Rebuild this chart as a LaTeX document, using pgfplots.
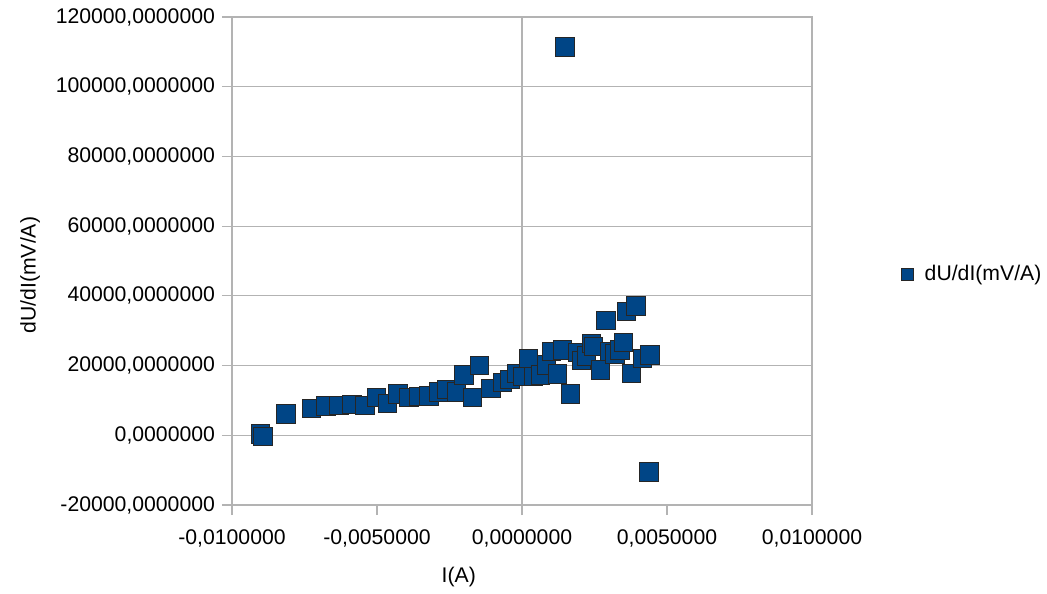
\documentclass[border=0pt]{standalone}
\usepackage{fontspec}
\setmainfont{Liberation Sans}
\usepackage{pgfplots}
\pgfplotsset{compat=1.18}
\definecolor{gridgray}{HTML}{B3B3B3}
\definecolor{seriesblue}{HTML}{004586}
\begin{document}
\begin{tikzpicture}
\path[use as bounding box] (-116pt,-44pt) rectangle (407.5pt,252.5pt);
\begin{axis}[
    scale only axis,
    width=290pt, height=244pt,
    xmin=-0.01, xmax=0.01,
    ymin=-20000, ymax=120000,
    xtick={-0.01,-0.005,0,0.005,0.01},
    ytick={-20000,0,20000,40000,60000,80000,100000,120000},
    xtick pos=bottom, ytick pos=left,
    scaled ticks=false,
    tick align=outside,
    major tick length=5pt,
    tick style={gridgray, line width=0.6pt},
    axis line style={gridgray, line width=0.6pt},
    ymajorgrids,
    grid style={gridgray, line width=0.6pt},
    extra x ticks={0},
    extra x tick labels={},
    extra x tick style={grid=major},
    /pgf/number format/assume math mode=true,
    xticklabel style={yshift=-4pt, /pgf/number format/.cd, fixed, fixed zerofill, precision=7, use comma, 1000 sep={}},
    yticklabel style={/pgf/number format/.cd, fixed, fixed zerofill, precision=7, use comma, 1000 sep={}},
    ticklabel style={font=\fontsize{10.6}{12.7}\selectfont, black},
    xlabel={I(A)},
    ylabel={dU/dI(mV/A)},
    label style={font=\fontsize{10.6}{12.7}\selectfont},
    xlabel style={at={(axis description cs:0.391,0)}, anchor=center, yshift=-36pt},
    ylabel style={at={(axis description cs:-0.348,0.471)}, anchor=center},
    legend style={draw=none, fill=none, at={(axis description cs:1.143,0.473)}, anchor=west,
        font=\fontsize{10.6}{12.7}\selectfont},
    legend image code/.code={\draw[#1, mark size=3pt] plot coordinates {(0.12cm,0cm)}; \path (9.9pt,0pt);},
    clip=false,
]
\addplot[only marks, mark=square*, mark size=4.6pt,
    mark options={fill=seriesblue, draw=black!85, line width=0.5pt}]
    coordinates {
    (-0.00901,400) (-0.00893,-344) (-0.00814,6110) (-0.00725,7745)
    (-0.00676,8405) (-0.00631,8491) (-0.00586,8778) (-0.00541,8491)
    (-0.00501,10901) (-0.00463,9180) (-0.00427,11847) (-0.00390,10901)
    (-0.00355,11073) (-0.00321,11274) (-0.00287,12421) (-0.00258,13196)
    (-0.00225,12421) (-0.00200,17298) (-0.00171,10786) (-0.00146,19966)
    (-0.00107,13483) (-0.00067,15089) (-0.00041,16064) (-0.00018,17786)
    (0.00004,16810) (0.00022,21974) (0.00039,16810) (0.00064,17298)
    (0.00085,20167) (0.00102,23982) (0.00122,17585) (0.00140,24470)
    (0.00168,11847) (0.00192,23695) (0.00206,21400) (0.00223,22748)
    (0.00240,26391) (0.00246,25416) (0.00271,18732) (0.00290,32874)
    (0.00303,23982) (0.00321,23322) (0.00338,24470) (0.00349,26563)
    (0.00378,17786) (0.00361,35456) (0.00393,37091) (0.00416,22088)
    (0.00441,23035) (0.00148,111389) (0.00438,-10528)
    };
\addlegendentry{dU/dI(mV/A)}
\end{axis}
\end{tikzpicture}
\end{document}
